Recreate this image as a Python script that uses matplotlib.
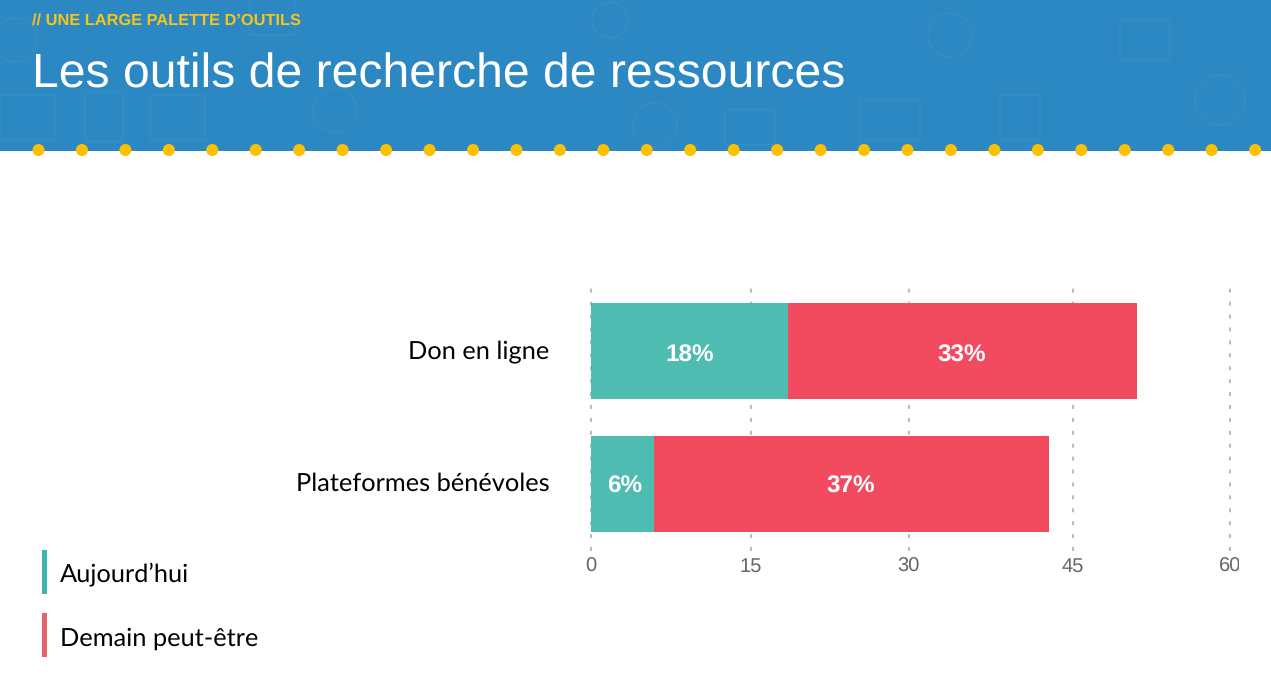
import matplotlib
matplotlib.use("Agg")
import matplotlib.pyplot as plt
from matplotlib.patches import Rectangle, Circle
from matplotlib.transforms import Bbox, IdentityTransform, TransformedBbox

plt.rcParams["text.hinting"] = "no_hinting"

categories = ["Don en ligne", "Plateformes bénévoles"]
aujourdhui = [18.5, 6.0]
demain = [32.8, 37.0]
labels_aujourdhui = ["18%", "6%"]
labels_demain = ["33%", "37%"]
tick_pos = [0, 15.05, 29.87, 45.25, 60]
tick_labels = ["0", "15", "30", "45", "60"]

W, H = 1271, 683
TEAL = "#4ebcb1"
RED = "#f24a5f"
YELLOW = "#fcc000"

fig = plt.figure(figsize=(W / 100, H / 100), dpi=100, facecolor="white")

# fond en pixels pour le bandeau et la légende
bg = fig.add_axes([0, 0, 1, 1])
bg.set_xlim(0, W)
bg.set_ylim(H, 0)
bg.axis("off")

bg.add_patch(Rectangle((0, 0), W, 151, color="#2c88c3", lw=0))

# motif d'icônes très discret dans le bandeau
icon = dict(fill=False, ec="#4a9bce", lw=1.2, alpha=0.22)
for x, y, w, h in [(85, 92, 38, 50), (150, 95, 55, 45), (0, 95, 55, 45), (250, 0, 45, 35),
                   (725, 110, 50, 35), (860, 100, 60, 40), (1120, 20, 50, 40), (1000, 95, 40, 45)]:
    bg.add_patch(Rectangle((x, y), w, h, **icon))
for x, y, r in [(15, 40, 22), (335, 110, 22), (655, 125, 22), (610, 20, 18), (950, 35, 22), (1220, 100, 25)]:
    bg.add_patch(Circle((x, y), r, **icon))

# points jaunes sous le bandeau
for i in range(29):
    bg.add_patch(Circle((38.5 + 43.45 * i, 150), 6, color=YELLOW, lw=0))

bg.text(32, 20.5, "// UNE LARGE PALETTE D’OUTILS", color="#f5c518", fontsize=11.8, fontweight="bold",
        family="Liberation Sans", va="center")
bg.text(32, 75, "Les outils de recherche de ressources", color="white", fontsize=34.65,
        family="Liberation Sans", va="center")

# légende
for y0, dy, c, txt in [(550, 24, "#3fb5ae", "Aujourd’hui"), (613, 26, "#e5636b", "Demain peut-être")]:
    bg.add_patch(Rectangle((42, y0), 5, 44, color=c, lw=0))
    bg.text(60, y0 + dy, txt, color="black", fontsize=18.3, family="Lato", va="center")

# graphique
x0, x1, y0, y1 = 590.5, 1230, 284.5, 550.5
ax = fig.add_axes([x0 / W, 1 - y1 / H, (x1 - x0) / W, (y1 - y0) / H])
ax.patch.set_alpha(0)
pos = list(range(len(categories)))
ax.barh(pos, aujourdhui, height=0.72, color=TEAL, zorder=3)
ax.barh(pos, demain, left=aujourdhui, height=0.72, color=RED, zorder=3)

for i in pos:
    ax.annotate(labels_aujourdhui[i], (aujourdhui[i] / 2, i), xytext=(2 if i == 1 else 1, -5 + 2 * i),
                textcoords="offset pixels", color="white", fontsize=17.5, fontweight="bold",
                family="Liberation Sans", ha="center", va="center", zorder=4)
    ax.annotate(labels_demain[i], (aujourdhui[i] + demain[i] / 2, i), xytext=(-1, -5 + 2 * i),
                textcoords="offset pixels", color="white", fontsize=17.5, fontweight="bold",
                family="Liberation Sans", ha="center", va="center", zorder=4)
    # noms de catégories à gauche de l'axe
    ax.annotate(categories[i], (0, i), xytext=(-41, -1 if i == 0 else 0), textcoords="offset pixels",
                color="black", fontsize=18.3, family="Lato", ha="right", va="center",
                annotation_clip=False)

ax.set_xlim(0, 60)
ax.set_ylim(1.5, -0.5)
ax.set_xticks(tick_pos)
ax.set_xticklabels(tick_labels, fontsize=14.5, color="#666666", family="Liberation Sans")
ax.set_yticks(pos)
ax.set_yticklabels([])
ax.tick_params(axis="both", length=0)
ax.tick_params(axis="x", pad=5)
ax.grid(axis="x", color="#bbbbbb", linewidth=1.5, linestyle=(0, (1.9, 4.3)), zorder=1)
ax.set_axisbelow(True)
for s in ax.spines.values():
    s.set_visible(False)

# le "60" est coupé à droite comme sur la diapo
clip = TransformedBbox(Bbox([[0, 0], [1239, H]]), IdentityTransform())
for t in ax.get_xticklabels():
    t.set_clip_box(clip)
    t.set_clip_on(True)
for line in ax.get_xgridlines():
    line.set_clip_on(False)

fig.savefig("out.png", dpi=100)
